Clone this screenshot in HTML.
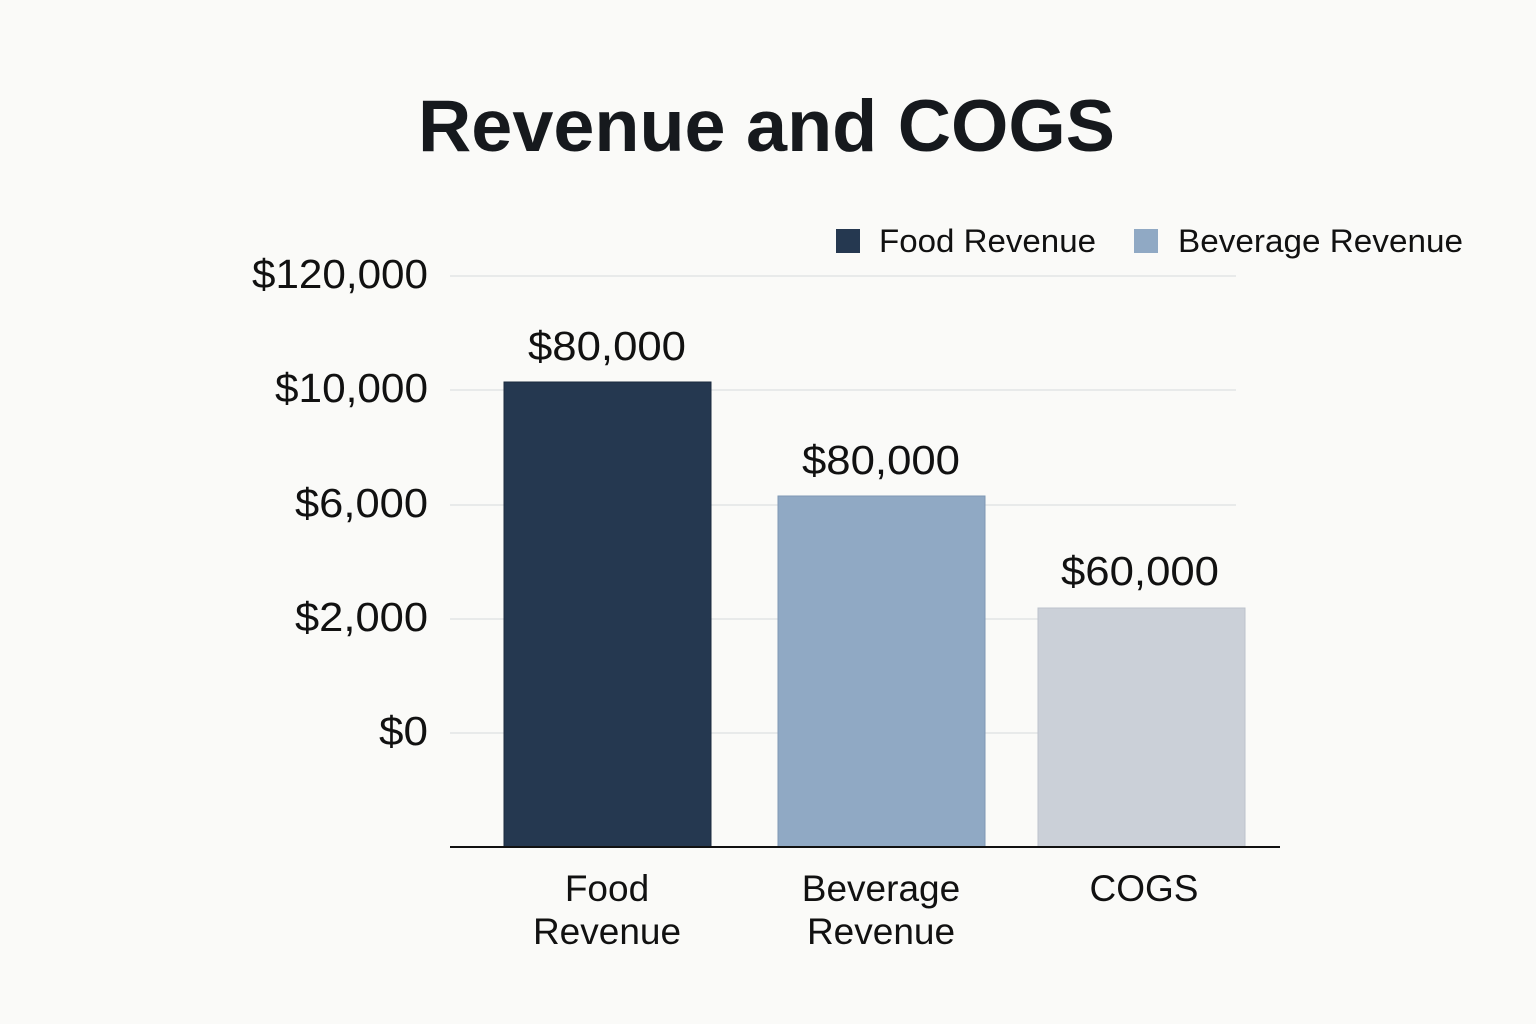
<!DOCTYPE html>
<html><head><meta charset="utf-8"><style>
html,body{margin:0;padding:0;background:#fafaf8;}
body{width:1536px;height:1024px;position:relative;overflow:hidden;font-family:"Liberation Sans",sans-serif;color:#111;}
</style></head><body>
<svg width="1536" height="1024" style="position:absolute;left:0;top:0" font-family="Liberation Sans, sans-serif">
<text x="418" y="151" font-size="73" font-weight="bold" fill="#16191d" textLength="697" lengthAdjust="spacingAndGlyphs">Revenue and COGS</text>
<g stroke="#e2e4e6" stroke-width="1.5">
<line x1="450" y1="276" x2="1236" y2="276"/>
<line x1="450" y1="390" x2="1236" y2="390"/>
<line x1="450" y1="505" x2="1236" y2="505"/>
<line x1="450" y1="619" x2="1236" y2="619"/>
<line x1="450" y1="733" x2="1236" y2="733"/>
</g>
<rect x="504" y="382" width="207" height="465" fill="#253850" stroke="#1a2a3e" stroke-width="1"/>
<rect x="778" y="496" width="207" height="351" fill="#90a9c4" stroke="#7f98b4" stroke-width="1"/>
<rect x="1038" y="608" width="207" height="239" fill="#cbd0d8" stroke="#bcc2cb" stroke-width="1"/>
<line x1="450" y1="847" x2="1280" y2="847" stroke="#111" stroke-width="2"/>
<g font-size="41" fill="#111" lengthAdjust="spacingAndGlyphs">
<text x="252" y="288" textLength="176" lengthAdjust="spacingAndGlyphs">$120,000</text>
<text x="275" y="402" textLength="153" lengthAdjust="spacingAndGlyphs">$10,000</text>
<text x="295" y="517" textLength="133" lengthAdjust="spacingAndGlyphs">$6,000</text>
<text x="295" y="631" textLength="133" lengthAdjust="spacingAndGlyphs">$2,000</text>
<text x="379" y="745" textLength="49" lengthAdjust="spacingAndGlyphs">$0</text>
</g>
<g font-size="41" fill="#111">
<text x="528" y="360" textLength="158" lengthAdjust="spacingAndGlyphs">$80,000</text>
<text x="802" y="474" textLength="158" lengthAdjust="spacingAndGlyphs">$80,000</text>
<text x="1061" y="585" textLength="158" lengthAdjust="spacingAndGlyphs">$60,000</text>
</g>
<g font-size="37" text-anchor="middle" fill="#111">
<text x="607" y="901">Food</text>
<text x="607" y="944">Revenue</text>
<text x="881" y="901">Beverage</text>
<text x="881" y="944">Revenue</text>
<text x="1144" y="901">COGS</text>
</g>
<rect x="836" y="229" width="24" height="24" fill="#253850"/>
<rect x="1134" y="229" width="24" height="24" fill="#90a9c4"/>
<g font-size="32" fill="#111">
<text x="879" y="252" textLength="217" lengthAdjust="spacingAndGlyphs">Food Revenue</text>
<text x="1178" y="252" textLength="285" lengthAdjust="spacingAndGlyphs">Beverage Revenue</text>
</g>
</svg>
</body></html>
